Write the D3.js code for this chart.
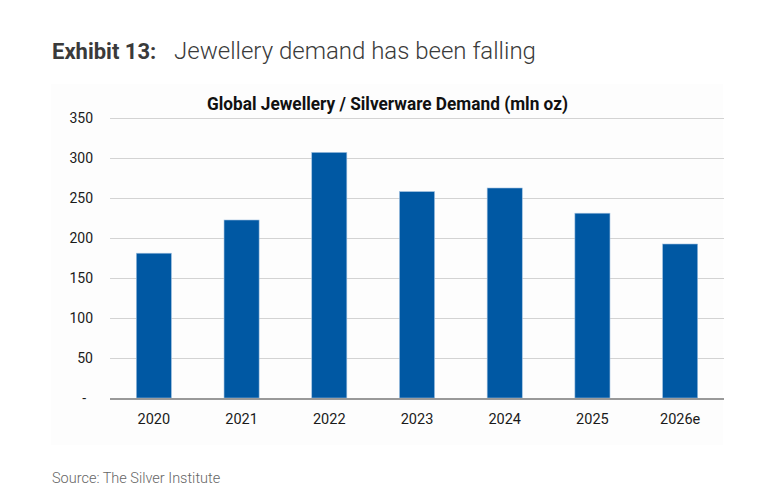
<!DOCTYPE html>
<html>
<head>
<meta charset="utf-8">
<style>
  body { margin: 0; background: #fff; }
  svg { display: block; font-family: Roboto, "Noto Sans", sans-serif; }
  .grid line { stroke: #d3d3d3; stroke-width: 1; }
  .ylab text { font-size: 14px; fill: #1a1a1a; }
  .xlab text { font-size: 14.5px; fill: #1a1a1a; }
</style>
</head>
<body>
<script src="https://cdn.jsdelivr.net/npm/d3@7/dist/d3.min.js"></script>
<script>
  // data read from the exhibit
  const years = ["2020", "2021", "2022", "2023", "2024", "2025", "2026e"];
  const demand = [181, 222.5, 307, 258, 262.5, 231, 192.5];
  const yTicks = [0, 50, 100, 150, 200, 250, 300, 350];

  const W = 758, H = 502;
  const plotL = 110, plotR = 724, plotT = 118, plotB = 398;

  const svg = d3.select("body").append("svg")
      .attr("width", W)
      .attr("height", H);

  // light panel behind the chart
  svg.append("rect")
      .attr("x", 51).attr("y", 84)
      .attr("width", 672).attr("height", 361)
      .attr("fill", "#fdfdfd");

  let x = d3.scaleBand()
      .domain(years)
      .range([plotL, plotR])
      .paddingInner(0.6)
      .paddingOuter(0.3);

  let y = d3.scaleLinear()
      .domain([0, 350])
      .range([plotB, plotT]);

  // gridlines
  svg.append("g")
      .attr("class", "grid")
      .selectAll("line")
      .data(yTicks.filter(function(d) { return d > 0; }))
      .enter().append("line")
        .attr("x1", plotL).attr("x2", plotR)
        .attr("y1", function(d) { return y(d) + 0.5; })
        .attr("y2", function(d) { return y(d) + 0.5; });

  // y labels, zero shown as a dash
  svg.append("g")
      .attr("class", "ylab")
      .selectAll("text")
      .data(yTicks)
      .enter().append("text")
        .attr("x", function(d) { return d == 0 ? 86 : 93; })
        .attr("y", function(d) { return y(d); })
        .attr("dy", "0.35em")
        .attr("text-anchor", "end")
        .text(function(d) { return d == 0 ? "-" : d; });

  // bars
  svg.append("g")
      .selectAll("rect")
      .data(years)
      .enter().append("rect")
        .attr("x", function(d) { return x(d); })
        .attr("y", function(d, i) { return y(demand[i]); })
        .attr("width", x.bandwidth())
        .attr("height", function(d, i) { return y(0) - y(demand[i]); })
        .attr("fill", "#0058a3")
        .attr("stroke", "#9fc0e0")
        .attr("stroke-width", 0.6);

  // x axis line
  svg.append("line")
      .attr("x1", plotL).attr("x2", plotR)
      .attr("y1", plotB + 1).attr("y2", plotB + 1)
      .attr("stroke", "#999")
      .attr("stroke-width", 2);

  svg.append("g")
      .attr("class", "xlab")
      .selectAll("text")
      .data(years)
      .enter().append("text")
        .attr("x", function(d) { return x(d) + x.bandwidth() / 2; })
        .attr("y", 424)
        .attr("text-anchor", "middle")
        .text(function(d) { return d; });

  // chart title
  svg.append("text")
      .attr("x", 207).attr("y", 110)
      .attr("textLength", 361)
      .attr("lengthAdjust", "spacingAndGlyphs")
      .attr("font-size", "18px")
      .attr("font-weight", "bold")
      .attr("fill", "#111")
      .text("Global Jewellery / Silverware Demand (mln oz)");

  // exhibit header
  let hdr = svg.append("text")
      .attr("x", 52).attr("y", 59)
      .attr("fill", "#3a3a3a");
  hdr.append("tspan")
      .attr("font-size", "22px")
      .attr("font-weight", "bold")
      .text("Exhibit 13:");
  hdr.append("tspan")
      .attr("x", 174)
      .attr("font-size", "24px")
      .attr("font-weight", 300)
      .text("Jewellery demand has been falling");

  svg.append("text")
      .attr("x", 52).attr("y", 483)
      .attr("font-size", "14.5px")
      .attr("font-weight", 300)
      .attr("fill", "#666")
      .text("Source: The Silver Institute");
</script>
</body>
</html>
